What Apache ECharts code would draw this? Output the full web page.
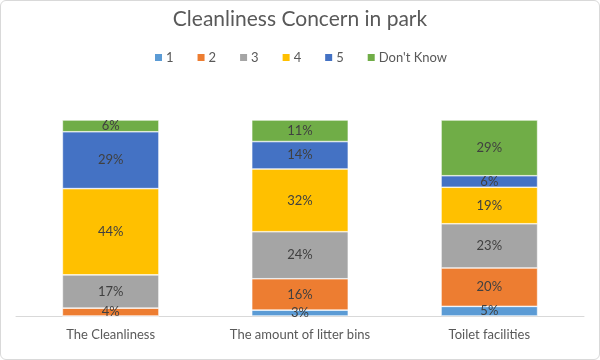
<!DOCTYPE html>
<html>
<head>
<meta charset="utf-8">
<script src="https://cdn.jsdelivr.net/npm/echarts@6/dist/echarts.min.js"></script>
<style>
html,body{margin:0;padding:0;background:#fff;}
#c{width:600px;height:360px;box-sizing:border-box;border:1px solid #d9d9d9;border-radius:6px;}
</style>
</head>
<body>
<div id="c"></div>
<script>
var categories = ["The Cleanliness", "The amount of litter bins", "Toilet facilities"];
var seriesNames = ["1", "2", "3", "4", "5", "Don't Know"];
var s1 = [0, 3, 5];
var s2 = [4, 16, 20];
var s3 = [17, 24, 23];
var s4 = [44, 32, 19];
var s5 = [29, 14, 6];
var sDK = [6, 11, 29];
var colors = ["#5B9BD5", "#ED7D31", "#A5A5A5", "#FFC000", "#4472C4", "#70AD47"];

var all = [s1, s2, s3, s4, s5, sDK];
var totals = categories.map(function(_, i){
  return all.reduce(function(a, s){ return a + s[i]; }, 0);
});
var F = 'Lato';

var chart = echarts.init(document.getElementById('c'));
chart.setOption({
  animation: false,
  title: {
    text: "Cleanliness Concern in park",
    left: 'center', top: 3,
    textStyle: {fontFamily: F, fontSize: 21, fontWeight: 'normal', color: '#595959'}
  },
  legend: {
    top: 45, left: 'center',
    itemWidth: 9, itemHeight: 9, itemGap: 22,
    icon: 'rect',
    textStyle: {fontFamily: F, fontSize: 13, color: '#595959', padding: [0,0,0,-2]},
    data: seriesNames
  },
  grid: {left: 15, right: 15, top: 119, bottom: 43, containLabel: false},
  xAxis: {
    type: 'category', data: categories,
    axisLine: {lineStyle: {color: '#d9d9d9'}},
    axisTick: {show: false},
    axisLabel: {fontFamily: F, fontSize: 13, color: '#595959', margin: 12}
  },
  yAxis: {type: 'value', min: 0, max: 100, show: false, splitLine: {show: false}},
  series: all.map(function(s, k){
    return {
      name: seriesNames[k], type: 'bar', stack: 'total', barWidth: '51%',
      itemStyle: {color: colors[k], borderColor: '#ffffff', borderWidth: 0.6},
      label: {
        show: true, position: 'inside',
        fontFamily: F, fontSize: 13, color: '#404040',
        formatter: function(p){ return s[p.dataIndex] + '%'; }
      },
      data: s.map(function(v, i){
        return v === 0 ? {value: 0, label: {show: false}} : v / totals[i] * 100;
      })
    };
  })
});
</script>
</body>
</html>
